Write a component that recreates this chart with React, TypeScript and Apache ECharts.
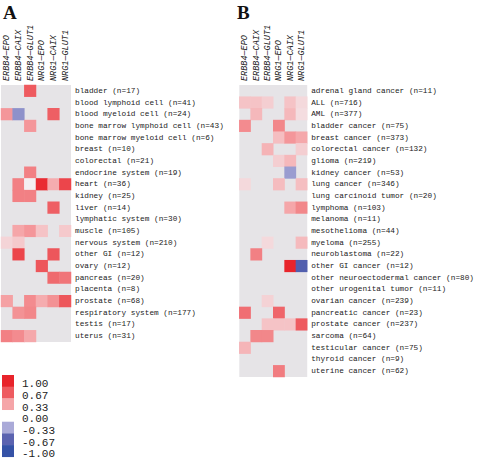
import React, { useEffect, useRef } from "react";
import * as echarts from "echarts";

const columns = ["ERBB4—EPO", "ERBB4—CAIX", "ERBB4—GLUT1", "NRG1—EPO", "NRG1—CAIX", "NRG1—GLUT1"];

const rowsA = [
  "bladder (n=17)", "blood lymphoid cell (n=41)", "blood myeloid cell (n=24)",
  "bone marrow lymphoid cell (n=43)", "bone marrow myeloid cell (n=6)", "breast (n=10)",
  "colorectal (n=21)", "endocrine system (n=19)", "heart (n=36)", "kidney (n=25)",
  "liver (n=14)", "lymphatic system (n=30)", "muscle (n=105)", "nervous system (n=210)",
  "other GI (n=12)", "ovary (n=12)", "pancreas (n=20)", "placenta (n=8)",
  "prostate (n=68)", "respiratory system (n=177)", "testis (n=17)", "uterus (n=31)",
];

// null = no value (grey)
const valuesA: (number | null)[][] = [
  [null, null, 0.67, null, null, null],
  [null, null, null, null, null, null],
  [0.4, -0.45, null, null, 0.65, null],
  [null, null, 0.4, null, null, null],
  [null, null, null, null, null, null],
  [null, null, null, null, null, null],
  [null, null, null, null, null, null],
  [null, null, 0.5, null, null, null],
  [null, 0.5, 0, 0.95, 0.3, 0.8],
  [null, 0.5, 0.5, null, null, null],
  [null, null, null, null, 0.65, null],
  [null, null, null, null, null, null],
  [null, 0.33, 0.4, 0.2, null, 0.17],
  [0.12, 0.17, null, null, null, null],
  [null, 0.8, null, null, 0.7, null],
  [null, null, null, 0.7, null, null],
  [null, null, null, null, 0.6, 0.55],
  [null, null, null, null, null, null],
  [0.35, null, 0.45, 0.3, 0.42, 0.7],
  [null, 0.42, 0.47, null, null, null],
  [null, null, null, null, null, null],
  [0.5, 0.45, 0.32, null, null, null],
];

const rowsB = [
  "adrenal gland cancer (n=11)", "ALL (n=716)", "AML (n=377)", "bladder cancer (n=75)",
  "breast cancer (n=373)", "colorectal cancer (n=132)", "glioma (n=219)", "kidney cancer (n=53)",
  "lung cancer (n=346)", "lung carcinoid tumor (n=20)", "lymphoma (n=103)", "melanoma (n=11)",
  "mesothelioma (n=44)", "myeloma (n=255)", "neuroblastoma (n=22)", "other GI cancer (n=12)",
  "other neuroectodermal cancer (n=80)", "other urogenital tumor (n=11)", "ovarian cancer (n=239)",
  "pancreatic cancer (n=23)", "prostate cancer (n=237)", "sarcoma (n=64)",
  "testicular cancer (n=75)", "thyroid cancer (n=9)", "uterine cancer (n=62)",
];

const valuesB: (number | null)[][] = [
  [null, null, null, null, null, null],
  [0.2, 0.2, 0.15, null, 0.2, 0.1],
  [null, 0.25, null, null, 0.25, 0.08],
  [0.45, null, null, 0.47, null, null],
  [null, null, null, 0.22, 0.4, 0.32],
  [null, null, 0.27, null, null, 0.15],
  [null, null, null, 0.15, 0.25, null],
  [null, null, null, null, -0.4, null],
  [0.1, null, null, 0.23, null, 0.22],
  [null, null, null, null, null, null],
  [null, null, null, null, 0.33, 0.47],
  [null, null, null, null, null, null],
  [null, null, null, null, null, null],
  [null, null, 0.1, null, null, 0.24],
  [null, 0.5, null, null, null, null],
  [null, null, null, null, 1.0, -0.75],
  [null, null, null, null, null, null],
  [null, null, null, null, null, null],
  [null, null, 0.13, null, null, null],
  [0.58, null, null, 0.62, null, null],
  [null, null, 0.2, 0.2, 0.2, 0.67],
  [null, 0.47, 0.47, null, null, null],
  [0.26, null, null, null, null, null],
  [null, null, null, null, null, null],
  [null, null, null, 0.52, null, null],
];

const legendValues = ["1.00", "0.67", "0.33", "0.00", "-0.33", "-0.67", "-1.00"];
const legendColors = ["#e8242b", "#ee5b60", "#f5a5a8", "#ffffff", "#aaaad8", "#5b63b0", "#3552a6"];
const scaleColors = ["#3552a6", "#5b63b0", "#aaaad8", "#f4eff2", "#f5a5a8", "#ee5b60", "#e8242b"];

const toData = (vals: (number | null)[][]) => {
  const out: [number, number, number][] = [];
  vals.forEach((row, y) => row.forEach((v, x) => { if (v !== null) out.push([x, y, v]); }));
  return out;
};

const ROW_H = 11.68;
const MONO = "'Liberation Mono', 'DejaVu Sans Mono', monospace";

export default function App() {
  const ref = useRef<HTMLDivElement>(null);
  useEffect(() => {
    if (!ref.current) return;
    const chart = echarts.init(ref.current, undefined, { renderer: "svg" });
    const top = 85;
    const gridA = { left: 1, top, width: 70, height: ROW_H * rowsA.length };
    const gridB = { left: 239.3, top, width: 70, height: ROW_H * rowsB.length };
    const xAxisCommon = {
      type: "category" as const,
      data: columns,
      position: "top" as const,
      axisLine: { show: false },
      axisTick: { show: false },
      splitLine: { show: false },
      axisLabel: { show: false },
    };
    const yAxisCommon = {
      type: "category" as const,
      position: "right" as const,
      inverse: true,
      axisLine: { show: false },
      axisTick: { show: false },
      splitLine: { show: false },
      axisLabel: {
        interval: 0,
        margin: 4,
        fontFamily: MONO,
        fontSize: 7.75,
        color: "#222",
        hideOverlap: false,
      },
    };
    chart.setOption({
      animation: false,
      backgroundColor: "#ffffff",
      grid: [
        { ...gridA, show: true, backgroundColor: "#e6e4e7", borderWidth: 0 },
        { ...gridB, show: true, backgroundColor: "#e6e4e7", borderWidth: 0 },
      ],
      xAxis: [
        { ...xAxisCommon, gridIndex: 0 },
        { ...xAxisCommon, gridIndex: 1 },
      ],
      yAxis: [
        { ...yAxisCommon, gridIndex: 0, data: rowsA },
        { ...yAxisCommon, gridIndex: 1, data: rowsB },
      ],
      visualMap: {
        type: "continuous",
        show: false,
        min: -1,
        max: 1,
        seriesIndex: [0, 1],
        inRange: { color: scaleColors },
      },
      series: [
        {
          type: "heatmap",
          xAxisIndex: 0,
          yAxisIndex: 0,
          data: toData(valuesA),
          itemStyle: { borderWidth: 0 },
        },
        {
          type: "heatmap",
          xAxisIndex: 1,
          yAxisIndex: 1,
          data: toData(valuesB),
          itemStyle: { borderWidth: 0 },
        },
      ],
    });

    // column headers, placed at the category positions of each x axis
    const headerGraphics: any[] = [];
    [0, 1].forEach((axisIndex) => {
      columns.forEach((c, i) => {
        const px = chart.convertToPixel({ xAxisIndex: axisIndex }, i) as number;
        headerGraphics.push({
          type: "text",
          x: px + 0.5,
          y: top - 4,
          rotation: Math.PI / 2,
          style: {
            text: c,
            fontFamily: MONO,
            fontStyle: "italic",
            fontSize: 8.5,
            fill: "#222",
            align: "left",
            verticalAlign: "middle",
          },
        });
      });
    });

    const legendTop = 375;
    const legendGraphics: any[] = [];
    legendValues.forEach((v, i) => {
      legendGraphics.push({
        type: "rect",
        shape: { x: 2, y: legendTop + i * ROW_H, width: 12, height: ROW_H + 0.3 },
        style: { fill: legendColors[i] },
      });
      legendGraphics.push({
        type: "text",
        x: 22,
        y: legendTop + i * ROW_H + ROW_H / 2 + 3.5,
        style: {
          text: v,
          fontFamily: MONO,
          fontSize: 11,
          fill: "#222",
          verticalAlign: "middle",
          align: "left",
        },
      });
    });
    chart.setOption({
      graphic: [
        {
          type: "text",
          x: 3,
          y: 3,
          style: { text: "A", fontFamily: "'Liberation Serif', serif", fontWeight: "bold", fontSize: 19, fill: "#111" },
        },
        {
          type: "text",
          x: 237,
          y: 3,
          style: { text: "B", fontFamily: "'Liberation Serif', serif", fontWeight: "bold", fontSize: 19, fill: "#111" },
        },
        ...headerGraphics,
        ...legendGraphics,
      ],
    });
    return () => chart.dispose();
  }, []);
  return <div ref={ref} style={{ position: "fixed", left: 0, top: 0, width: 477, height: 460 }} />;
}
